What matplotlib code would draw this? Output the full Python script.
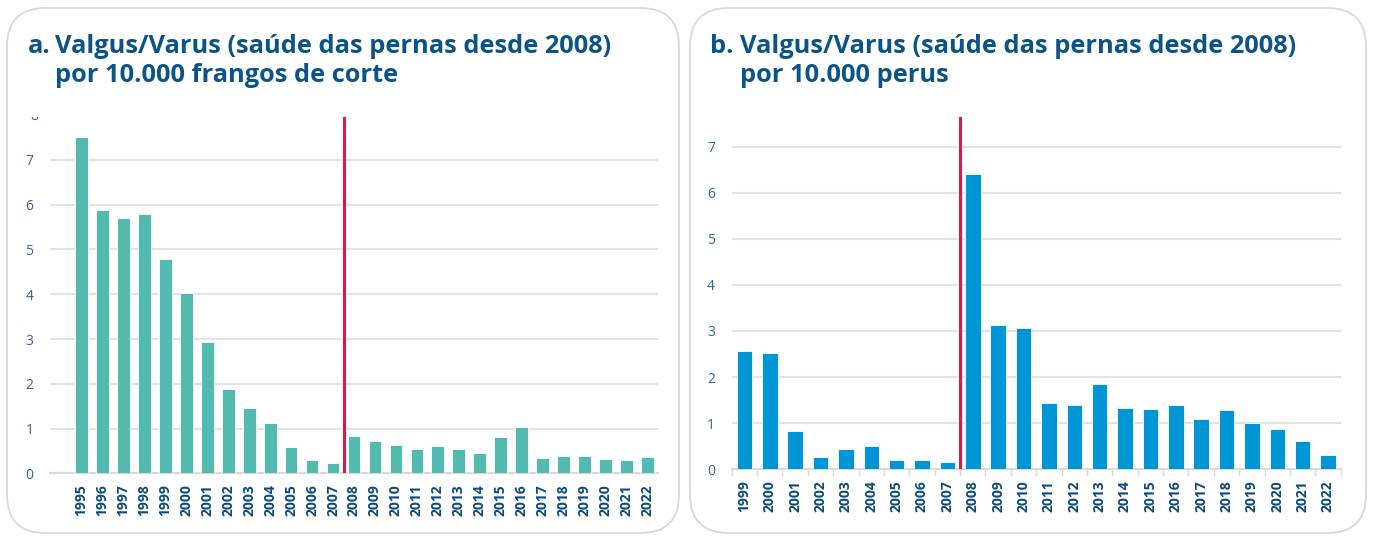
import matplotlib
matplotlib.use("Agg")
import matplotlib.pyplot as plt
from matplotlib.patches import FancyBboxPatch, Rectangle
import numpy as np

# ---- data ----
years_a = [str(y) for y in range(1995, 2023)]
values_a = [7.52, 5.88, 5.71, 5.79, 4.79, 4.02, 2.93, 1.88, 1.45, 1.12, 0.58, 0.29, 0.22,
            0.83, 0.72, 0.63, 0.54, 0.61, 0.54, 0.45, 0.81, 1.03, 0.35, 0.39, 0.38, 0.31, 0.30, 0.37]
years_b = [str(y) for y in range(1999, 2023)]
values_b = [2.57, 2.52, 0.83, 0.27, 0.44, 0.51, 0.21, 0.21, 0.16,
            6.40, 3.13, 3.07, 1.43, 1.39, 1.85, 1.34, 1.31, 1.40, 1.08, 1.29, 1.00, 0.87, 0.61, 0.30]
title_a = ["Valgus/Varus (saúde das pernas desde 2008)", "por 10.000 frangos de corte"]
title_b = ["Valgus/Varus (saúde das pernas desde 2008)", "por 10.000 perus"]
yticks_a = [0, 1, 2, 3, 4, 5, 6, 7]
yticks_b = [0, 1, 2, 3, 4, 5, 6, 7]
marker_year = "2008"

W, H = 1375, 536
DPI = 100
TEAL = "#52BAAE"
BLUE = "#0096D5"
RED = "#D0204A"
TITLE = "#0B5489"
TICK = "#2E679A"
YEARC = "#0A4A80"
GRID = "#E3E3E3"
TFS = 18.3

plt.rcParams['font.family'] = ['Open Sans', 'DejaVu Sans']

fig = plt.figure(figsize=(W / DPI, H / DPI), dpi=DPI)
fig.patch.set_facecolor("white")

def px(x, y):
    return x / W, 1 - y / H

# panels
for (x0, x1) in [(7, 679), (690, 1366)]:
    p = FancyBboxPatch(px(x0, 533), (x1 - x0) / W, (533 - 8) / H,
                       boxstyle="round,pad=0,rounding_size=0.028",
                       transform=fig.transFigure, facecolor="white",
                       edgecolor="#D9D9D9", linewidth=1.3, mutation_aspect=W / H,
                       zorder=-5)
    fig.patches.append(p)

# titles
def title(prefix, xp, xt, lines):
    kw = dict(fontsize=TFS, fontweight="bold", color=TITLE, va="baseline", ha="left")
    fig.text(*px(xp, 53), prefix, **kw)
    fig.text(*px(xt, 53), lines[0], **kw)
    fig.text(*px(xt, 82), lines[1], **kw)

title("a.", 28, 55, title_a)
title("b.", 710, 740, title_b)

def make_axes(x0, x1, ytop, ybot):
    l, b = x0 / W, 1 - ybot / H
    return fig.add_axes([l, b, (x1 - x0) / W, (ybot - ytop) / H])

def style(ax, years, values, color, yticks, ymax, xlim, ticks_between):
    xs = np.arange(len(years))
    ax.bar(xs, values, width=0.61, color=color, edgecolor="white", linewidth=0.6, zorder=3)
    ax.set_xlim(*xlim)
    ax.set_ylim(0, ymax)
    ax.set_yticks(yticks)
    ax.set_yticklabels([str(t) for t in yticks], color=TICK, fontsize=10)
    ax.yaxis.grid(True, color=GRID, linewidth=1.5, zorder=0)
    ax.set_axisbelow(True)
    for s in ["top", "right", "left"]:
        ax.spines[s].set_visible(False)
    ax.spines["bottom"].set_color("#D9D9D9")
    ax.spines["bottom"].set_linewidth(1.5)
    ax.tick_params(axis="y", length=0, pad=12)
    ax.set_xticks(xs)
    ax.set_xticklabels(years, rotation=90, fontsize=10, fontweight="bold", color=YEARC)
    ax.tick_params(axis="x", length=0, pad=8)
    if ticks_between:
        ax.set_xticks(np.arange(len(years) + 1) - 0.5, minor=True)
        ax.tick_params(axis="x", which="minor", length=5, color="#D9D9D9", width=1)
    idx = years.index(marker_year)
    ax.axvline(idx - 0.5, color=RED, linewidth=2.2, zorder=4)
    ax.patch.set_alpha(0)

ax1 = make_axes(50, 658, 117, 473.3)
style(ax1, years_a, values_a, TEAL, yticks_a, 7.96, (-1.5, len(years_a) - 0.5), False)
# partially clipped top label "8"
t8 = fig.text(*px(34, 473.3 - 8 * 44.55), "8", color=TICK, fontsize=10, ha="center", va="center")
clip = Rectangle((0, 0), 1, 1 - 117 / H, transform=fig.transFigure)
t8.set_clip_path(clip)

ax2 = make_axes(731.7, 1340.7, 117, 469.3)
style(ax2, years_b, values_b, BLUE, yticks_b, 7.64, (-0.5, len(years_b) - 0.5), True)

fig.savefig("out.png", dpi=DPI, facecolor="white")
